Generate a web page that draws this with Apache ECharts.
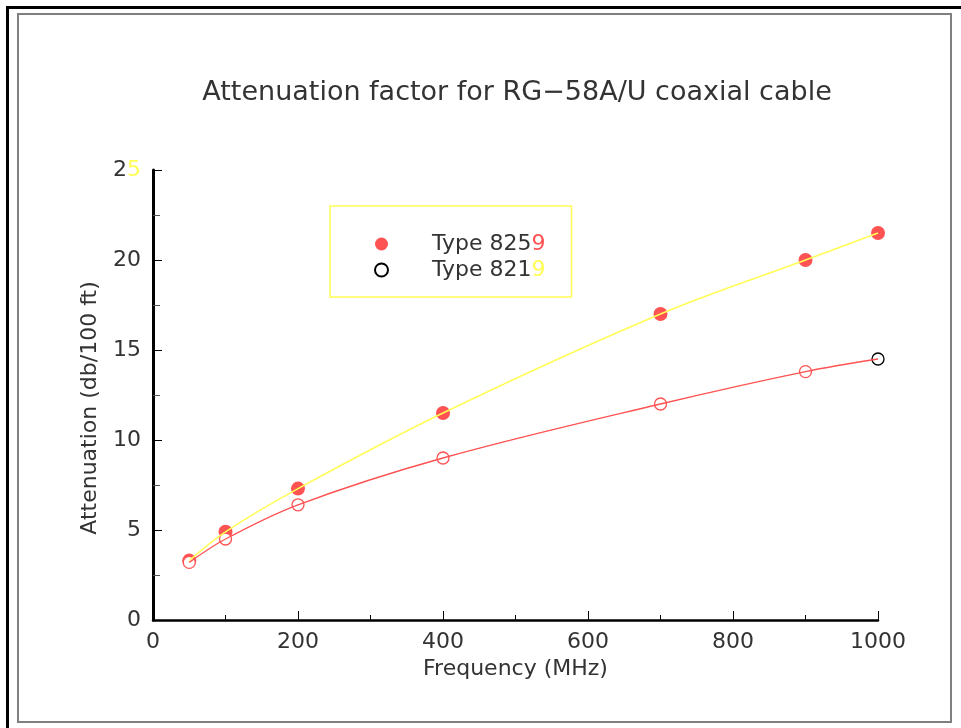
<!DOCTYPE html>
<html>
<head>
<meta charset="utf-8">
<script src="https://cdn.jsdelivr.net/npm/echarts@6/dist/echarts.min.js"></script>
<style>html,body{margin:0;padding:0;background:#fff}#c{width:961px;height:728px}</style>
</head>
<body>
<div id="c"></div>
<script>
var frequencies = [50, 100, 200, 400, 700, 900, 1000];
var type8259 = [3.3, 4.9, 7.3, 11.5, 17.0, 20.0, 21.5];
var type8219 = [3.2, 4.5, 6.4, 9.0, 12.0, 13.8, 14.5];
var seriesNames = ['Type 8259', 'Type 8219'];
var xTicks = [0, 200, 400, 600, 800, 1000];
var yTicks = [0, 5, 10, 15, 20, 25];

var RED = '#ff5252';
var YEL = '#ffff55';
var FONT = 'DejaVu Sans';
var TXT = '#333';

function pairs(xs, ys) { return xs.map(function (x, i) { return [x, ys[i]]; }); }

var openPts = pairs(frequencies, type8219).map(function (p, i) {
  if (i === frequencies.length - 1) return { value: p, itemStyle: { borderColor: '#000' } };
  return p;
});

var chart = echarts.init(document.getElementById('c'), null, { renderer: 'canvas' });
chart.setOption({
  animation: false,
  backgroundColor: '#fff',
  graphic: [
    { type: 'rect', shape: { x: 7.5, y: 7.5, width: 1000, height: 1000 }, style: { fill: 'none', stroke: '#000', lineWidth: 3 }, silent: true, z: -1 },
    { type: 'rect', shape: { x: 18, y: 14, width: 933, height: 708 }, style: { fill: 'none', stroke: '#808080', lineWidth: 2 }, silent: true, z: -1 }
  ],
  title: {
    text: 'Attenuation factor for RG\u221258A/U coaxial cable',
    left: 512, top: 74, textAlign: 'center',
    textStyle: { fontFamily: FONT, fontSize: 27, fontWeight: 'normal', color: TXT }
  },
  legend: {
    left: 330, top: 206, orient: 'vertical',
    padding: [27, 26, 16, 44],
    borderColor: YEL, borderWidth: 1.5,
    itemWidth: 13, itemHeight: 13, itemGap: 4,
    data: [
      { name: seriesNames[0], icon: 'circle', itemStyle: { color: RED, borderWidth: 0 } },
      { name: seriesNames[1], icon: 'emptyCircle', itemStyle: { color: '#000', borderColor: '#000', borderWidth: 1.5 } }
    ],
    formatter: function (n) {
      return n === seriesNames[0] ? '{k|Type 825}{r|9}' : '{k|Type 821}{y|9}';
    },
    textStyle: {
      fontFamily: FONT, fontSize: 22, color: TXT,
      rich: {
        k: { fontFamily: FONT, fontSize: 22, color: TXT, padding: [0, 0, 0, 39] },
        r: { fontFamily: FONT, fontSize: 22, color: RED },
        y: { fontFamily: FONT, fontSize: 22, color: YEL }
      }
    }
  },
  grid: { left: 153, right: 83, top: 170, bottom: 108, containLabel: false },
  xAxis: {
    type: 'value', min: xTicks[0], max: xTicks[xTicks.length - 1], interval: 200,
    name: 'Frequency (MHz)', nameLocation: 'middle', nameGap: 37,
    nameTextStyle: { fontFamily: FONT, fontSize: 22, color: TXT },
    axisLine: { lineStyle: { color: '#000', width: 2.5 } },
    axisTick: { inside: true, length: 9, lineStyle: { color: '#000', width: 1 } },
    minorTick: { show: true, splitNumber: 2, length: 5, lineStyle: { color: '#000', width: 1 } },
    splitLine: { show: false },
    axisLabel: { fontFamily: FONT, fontSize: 22, color: TXT, margin: 11, formatter: function (v) { return String(v); } }
  },
  yAxis: {
    type: 'value', min: yTicks[0], max: yTicks[yTicks.length - 1], interval: 5,
    name: 'Attenuation (db/100 ft)', nameLocation: 'middle', nameGap: 52,
    nameTextStyle: { fontFamily: FONT, fontSize: 22, color: TXT, padding: [0, 26, 0, 0] },
    axisLine: { show: true, lineStyle: { color: '#000', width: 3 } },
    axisTick: { show: true, inside: true, length: 9, lineStyle: { color: '#000', width: 1 } },
    minorTick: { show: true, splitNumber: 2, length: 7, lineStyle: { color: '#555', width: 1 } },
    splitLine: { show: false },
    axisLabel: {
      fontFamily: FONT, fontSize: 22, color: TXT, margin: 12,
      formatter: function (v) { return v === 25 ? '{k|2}{y|5}' : String(v); },
      rich: {
        k: { fontFamily: FONT, fontSize: 22, color: TXT },
        y: { fontFamily: FONT, fontSize: 22, color: YEL }
      }
    }
  },
  series: [
    {
      name: 'curve8259', type: 'line', smooth: 0.35, showSymbol: false, silent: true,
      data: pairs(frequencies, type8259), lineStyle: { color: YEL, width: 1.5 }, z: 2
    },
    {
      name: 'curve8219', type: 'line', smooth: 0.35, showSymbol: false, silent: true,
      data: pairs(frequencies, type8219), lineStyle: { color: RED, width: 1.3 }, z: 2
    },
    {
      name: seriesNames[0], type: 'scatter', symbol: 'circle', symbolSize: 14,
      data: pairs(frequencies, type8259), itemStyle: { color: RED, opacity: 1 }, z: 1
    },
    {
      name: seriesNames[1], type: 'scatter', symbol: 'circle', symbolSize: 12,
      data: openPts, itemStyle: { color: '#fff', borderColor: RED, borderWidth: 1.3, opacity: 1 }, z: 1
    }
  ]
});
</script>
</body>
</html>
